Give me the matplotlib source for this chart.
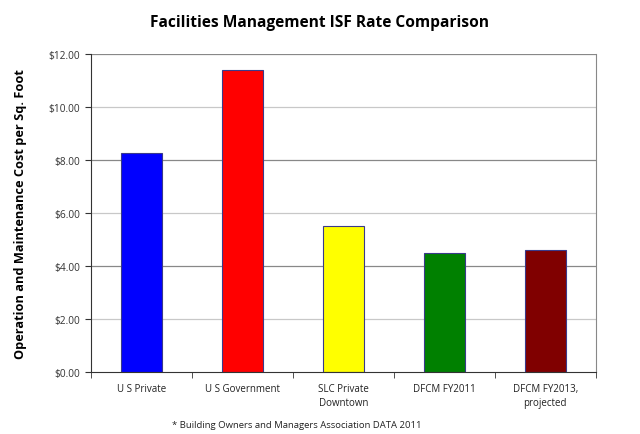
import matplotlib.pyplot as plt
import numpy as np

plt.rcParams['font.family'] = ['Open Sans', 'DejaVu Sans']

categories = ['U S Private', 'U S Government', 'SLC Private\nDowntown', 'DFCM FY2011', 'DFCM FY2013,\nprojected']
values = [8.28, 11.38, 5.52, 4.48, 4.60]
colors = ['#0000FF', '#FF0000', '#FFFF00', '#008000', '#800000']
yticks = [0, 2, 4, 6, 8, 10, 12]

fig = plt.figure(figsize=(6.4, 4.35), dpi=100)
ax = fig.add_axes([0.142, 0.1425, 0.789, 0.7311])

x = np.arange(len(categories))
for y in yticks[1:]:
    c = '#888888' if y in (4, 8, 12) else '#c8c8c8'
    ax.axhline(y, color=c, lw=0.9, zorder=0)

ax.bar(x, values, width=0.41, color=colors, edgecolor='#3a3a8a', linewidth=0.8, zorder=2)

ax.set_xlim(-0.5, len(categories) - 0.5)
ax.set_ylim(0, 12)
ax.set_yticks(yticks)
ax.set_yticklabels(['$%.2f' % v for v in yticks], fontsize=7.3, color='#333333')
ax.set_xticks(x)
ax.set_xticklabels(categories, fontsize=7, color='#222222', linespacing=1.4)
ax.tick_params(axis='x', length=0, pad=8)
ax.set_xticks(np.arange(-0.5, len(categories)), minor=True)
ax.tick_params(axis='x', which='minor', length=4, direction='out', color='#333333')
ax.tick_params(axis='y', length=4, direction='out', color='#333333')

ax.spines['top'].set_visible(False)
ax.spines['right'].set_color('#888888')
ax.spines['left'].set_color('#333333')
ax.spines['bottom'].set_color('#333333')

ax.set_ylabel('Operation and Maintenance Cost per Sq. Foot', fontsize=9.2, fontweight='bold', labelpad=16)
fig.text(0.5, 0.948, 'Facilities Management ISF Rate Comparison', ha='center', va='center',
         fontsize=11.2, fontweight='bold')
fig.text(0.464, 0.022, '* Building Owners and Managers Association DATA 2011', ha='center', va='center',
         fontsize=6.8, color='#222222')

fig.savefig('out.png', dpi=100)
